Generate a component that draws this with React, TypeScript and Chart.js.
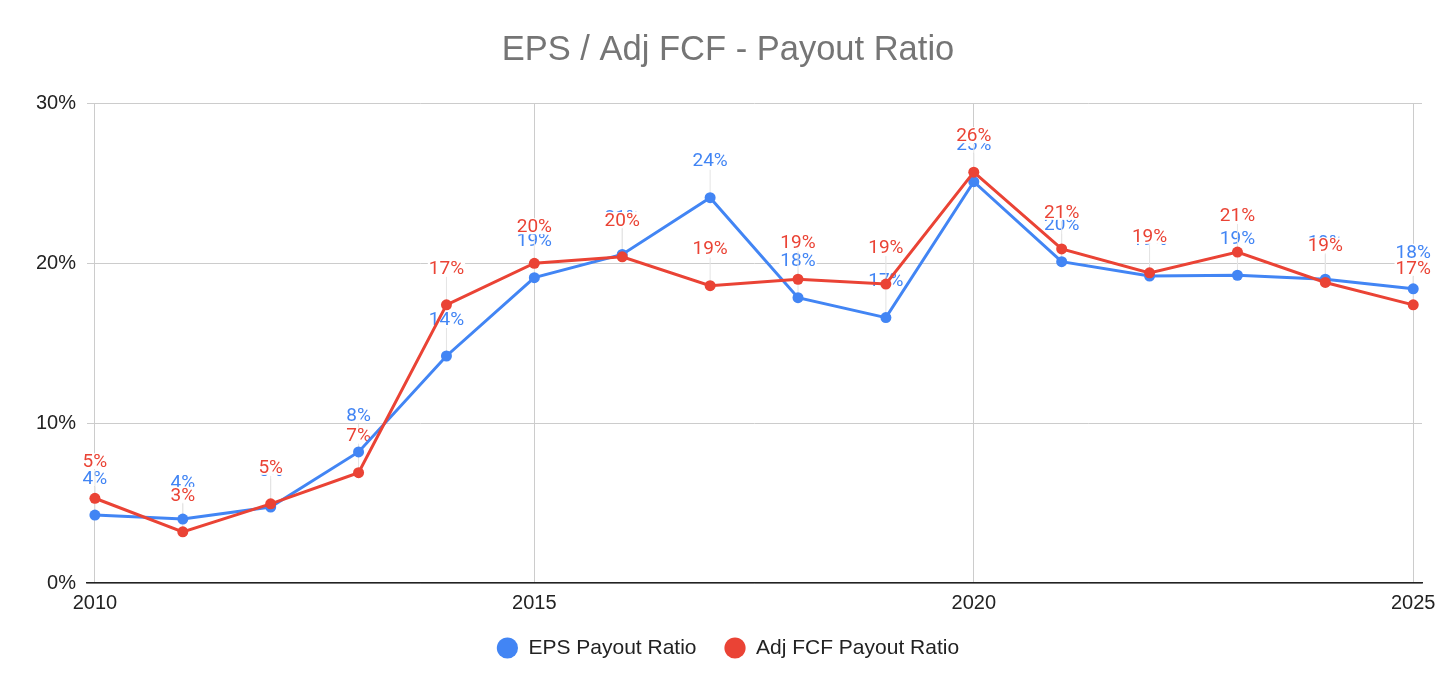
import { Chart, registerables } from "chart.js"
import { useEffect, useRef } from "react"

Chart.register(...registerables)

const YEARS = [
	2010, 2011, 2012, 2013, 2014, 2015, 2016, 2017, 2018, 2019, 2020, 2021, 2022,
	2023, 2024, 2025,
]
const EPS_PAYOUT = [
	4.25, 4.0, 4.75, 8.2, 14.2, 19.1, 20.55, 24.1, 17.85, 16.6, 25.1, 20.1, 19.2,
	19.25, 19.0, 18.4,
]
const FCF_PAYOUT = [
	5.3, 3.2, 4.95, 6.9, 17.4, 20.0, 20.4, 18.6, 19.0, 18.7, 25.7, 20.9, 19.4,
	20.7, 18.8, 17.4,
]
const X_TICKS = [2010, 2015, 2020, 2025]
const Y_TICKS = [0, 10, 20, 30]

const BLUE = "#4285f4"
const RED = "#ea4335"

// labels above each point, drawn under the lines like in Sheets
const pointLabels = {
	id: "pointLabels",
	beforeDatasetsDraw(chart: Chart) {
		const ctx = chart.ctx
		ctx.save()
		ctx.font = "19px Roboto"
		ctx.textAlign = "center"
		ctx.textBaseline = "middle"
		chart.data.datasets.forEach((ds: any, di: number) => {
			const meta = chart.getDatasetMeta(di)
			meta.data.forEach((pt: any, i: number) => {
				const v = ds.data[i].y
				const text = `${Math.round(v)}%`
				const lx = pt.x
				const ly = pt.y - 37
				ctx.strokeStyle = "#e4e4e4"
				ctx.lineWidth = 1
				ctx.beginPath()
				ctx.moveTo(lx, ly + 9)
				ctx.lineTo(lx, pt.y - 5)
				ctx.stroke()
				const w = ctx.measureText(text).width
				ctx.fillStyle = "#ffffff"
				ctx.fillRect(lx - w / 2 - 1, ly - 8, w + 2, 16)
				ctx.fillStyle = ds.borderColor
				ctx.fillText(text, lx, ly + 1)
			})
		})
		ctx.restore()
	},
}

export default function App() {
	const canvasRef = useRef<HTMLCanvasElement>(null)
	const chartRef = useRef<Chart | null>(null)

	useEffect(() => {
		if (!canvasRef.current) return

		const eps = YEARS.map((yr, i) => ({ x: yr, y: EPS_PAYOUT[i] }))
		const fcf = YEARS.map((yr, i) => ({ x: yr, y: FCF_PAYOUT[i] }))

		chartRef.current = new Chart(canvasRef.current, {
			type: "line",
			data: {
				datasets: [
					{
						label: "EPS Payout Ratio",
						data: eps,
						borderColor: BLUE,
						backgroundColor: BLUE,
						pointBackgroundColor: BLUE,
						borderWidth: 3,
						pointRadius: 5.5,
						pointBorderWidth: 0,
						pointHoverRadius: 5.5,
						order: 1,
					},
					{
						label: "Adj FCF Payout Ratio",
						data: fcf,
						borderColor: RED,
						backgroundColor: RED,
						pointBackgroundColor: RED,
						borderWidth: 3,
						pointRadius: 5.5,
						pointBorderWidth: 0,
						pointHoverRadius: 5.5,
						order: 0,
					},
				],
			},
			options: {
				responsive: true,
				maintainAspectRatio: false,
				animation: false,
				layout: { padding: { top: 0, left: 34, right: 34, bottom: 25.5 } },
				plugins: {
					tooltip: { enabled: false },
					title: {
						display: true,
						text: "EPS / Adj FCF - Payout Ratio",
						color: "#757575",
						font: { family: "'Liberation Sans', Arial", size: 34.5, weight: "normal" },
						padding: { top: 29.5, bottom: 32.5 },
					},
					legend: {
						position: "bottom",
						labels: {
							usePointStyle: true,
							pointStyle: "circle",
							boxWidth: 21,
							boxHeight: 15,
							padding: 28,
							color: "#222222",
							font: { family: "'Liberation Sans', Arial", size: 21 },
							sort: (a: any, b: any) => a.datasetIndex - b.datasetIndex,
						},
					},
				},
				scales: {
					x: {
						type: "linear",
						min: 2009.91,
						max: 2025.1,
						afterBuildTicks: (scale: any) => {
							scale.ticks = X_TICKS.map((v) => ({ value: v }))
						},
						afterFit: (scale: any) => {
							scale.height = 26.5
						},
						ticks: {
							color: "#222222",
							padding: 8,
							maxRotation: 0,
							font: { family: "'Liberation Sans', Arial", size: 20 },
							callback: (v: any) => String(v),
						},
						grid: { color: "#cccccc", drawTicks: false },
						border: { display: true, color: "#222222", width: 1.5 },
					},
					y: {
						min: 0,
						max: 30,
						afterBuildTicks: (scale: any) => {
							scale.ticks = Y_TICKS.map((v) => ({ value: v }))
						},
						afterFit: (scale: any) => {
							scale.width = 53
						},
						ticks: {
							color: "#222222",
							padding: 11,
							font: { family: "'Liberation Sans', Arial", size: 20 },
							callback: (v: any) => `${v}%`,
						},
						grid: { color: "#cccccc", drawTicks: false },
						border: { display: false },
					},
				},
			},
			plugins: [pointLabels],
		})

		return () => {
			chartRef.current?.destroy()
		}
	}, [])

	return (
		<div style={{ position: "absolute", left: 0, top: 0, width: 1456, height: 694, background: "#fff" }}>
			<canvas ref={canvasRef} />
		</div>
	)
}
